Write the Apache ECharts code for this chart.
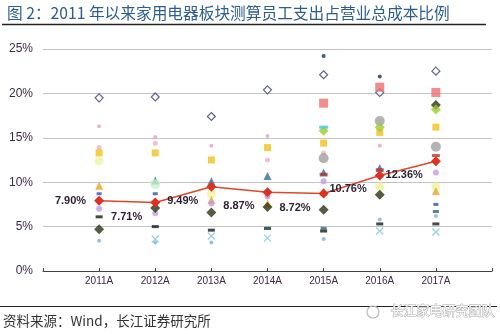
<!DOCTYPE html>
<html><head><meta charset="utf-8">
<script src="https://cdn.jsdelivr.net/npm/echarts@6/dist/echarts.min.js"></script>
<style>html,body{margin:0;padding:0;background:#fff}#c{width:500px;height:334px}</style>
</head><body><div id="c"></div>
<script>
const categories = ['2011A','2012A','2013A','2014A','2015A','2016A','2017A'];
const yTickLabels = ['0%','5%','10%','15%','20%','25%'];
const average = [7.90, 7.71, 9.49, 8.87, 8.72, 10.76, 12.36];
// company ratios (%), one array per company marker
const navyHollowDiamond = [19.5, 19.6, 17.4, 20.4, 22.1, 20.1, 22.5];
const darkGreenDiamond  = [4.7, 7.1, 6.6, 7.2, 6.9, 8.6, 18.7];
const blackDash         = [6.1, 5.0, 4.6, 4.8, 4.5, 5.3, 5.3];
const pinkDot           = [16.3, 15.1, 14.1, 15.2, null, 14.1, null];
const lightPinkDot      = [13.9, 14.4, null, 12.5, 13.3, null, null];
const yellowSquare      = [13.3, 13.3, 12.5, 13.9, 14.4, 15.6, 16.2];
const paleYellowCircle  = [12.4, null, 8.7, null, null, 9.5, 9.5];
const orangeTriangle    = [9.6, null, 8.0, 7.6, 8.9, null, 9.0];
const blueDash          = [8.7, 8.7, null, null, null, null, 7.5];
const purpleDot         = [7.0, 6.5, 7.6, 8.4, 10.1, null, 11.1];
const lightBlueDot      = [3.4, 3.2, 3.2, null, 3.6, 5.8, 6.2];
const lightBlueCross    = [null, 3.6, 3.95, 3.7, null, 4.5, 4.4];
const steelTriangle     = [null, 10.2, 10.1, 10.7, 11.1, 11.6, null];
const lightGreenCircle  = [null, 9.8, null, null, null, null, null];
const salmonSquare      = [null, null, null, null, 18.9, 20.7, 20.1];
const grayCircle        = [null, null, null, null, 12.7, 16.9, 14.0];
const limeDiamond       = [null, null, null, null, 15.8, 16.2, 18.2];
const cyanDash          = [null, null, null, null, 16.2, null, null];
const darkBlueDot       = [null, null, null, null, 24.2, 21.9, null];
const redDash           = [null, null, null, null, 10.9, 11.4, 13.0];
const tealDash          = [null, null, null, 4.8, 4.8, null, 6.7];

const pad = a => [null, ...a, null];
const xCats = ['', ...categories, ''];

function sc(name, data, symbol, size, color, hollow) {
  return {
    name, type: 'scatter', data: pad(data), symbol, symbolSize: size,
    itemStyle: hollow ? {color: '#fff', borderColor: color, borderWidth: 1.2} : {color},
    z: 3
  };
}

const series = [
  sc('a', navyHollowDiamond, 'diamond', 8, '#3b3f7a', true),
  sc('b', pinkDot, 'circle', 4, '#e7a0c8'),
  sc('c', lightPinkDot, 'circle', 5, '#f0b0c0'),
  sc('d', yellowSquare, 'rect', 7, '#f2c21a'),
  sc('e', paleYellowCircle, 'circle', 9, '#eef5a0'),
  sc('f', orangeTriangle, 'triangle', 8, '#f0a020'),
  sc('g', blueDash, 'rect', [5, 3], '#3050b0'),
  sc('h', purpleDot, 'circle', 6, '#c39be8'),
  sc('i', blackDash, 'rect', [7, 3], '#1a1a1a'),
  sc('j', darkGreenDiamond, 'diamond', 10, '#2b3512'),
  sc('k', lightBlueDot, 'circle', 4, '#7fb0d8'),
  sc('l', lightBlueCross, 'path://M0,0L2,2M2,0L0,2', 7, '#7ec8e0'),
  sc('m', steelTriangle, 'triangle', 8, '#2e6aa0'),
  sc('n', lightGreenCircle, 'circle', 10, '#c4f2c8'),
  sc('o', salmonSquare, 'rect', 9, '#ee7070'),
  sc('p', grayCircle, 'circle', 10, '#a0a0a0'),
  sc('q', limeDiamond, 'diamond', 10, '#9ccc30'),
  sc('r', cyanDash, 'rect', [9, 3], '#40c8d8'),
  sc('s', darkBlueDot, 'circle', 4, '#1c2c5c'),
  sc('t', redDash, 'rect', [8, 3], '#c0302a'),
  sc('u', tealDash, 'rect', [6, 3], '#2a6a70')
];
series[11].itemStyle = {color: 'none', borderColor: '#7ec8e0', borderWidth: 1.3};

series.push({
  name: 'avg', type: 'line', data: pad(average), symbol: 'diamond', symbolSize: 10,
  lineStyle: {color: '#e0472a', width: 1.5},
  itemStyle: {color: '#e03020'},
  z: 5,
  label: {
    show: true, position: 'left', distance: 8,
    formatter: p => p.value == null ? '' : p.value.toFixed(2) + '%',
    fontSize: 11, fontWeight: 'bold', color: '#2a1f33', fontFamily: 'Liberation Sans'
  },
  labelLayout: p => p.dataIndex === 1 ? {} : {dy: 14}
});

const chart = echarts.init(document.getElementById('c'));
chart.setOption({
  animation: false,
  title: {
    text: '图 2：2011 年以来家用电器板块测算员工支出占营业总成本比例',
    left: 2, top: 0,
    textStyle: {fontSize: 15.7, fontWeight: 'normal', color: '#2c5d8f', fontFamily: 'Noto Sans CJK SC'}
  },
  graphic: [
    {type: 'line', shape: {x1: 2, y1: 24.5, x2: 486, y2: 24.5}, style: {stroke: '#222', lineWidth: 1.5}},
    {type: 'line', shape: {x1: 0, y1: 306.5, x2: 497, y2: 306.5}, style: {stroke: '#222', lineWidth: 1.2}},
    {type: 'text', left: 3, top: 314, style: {text: '资料来源：Wind，长江证券研究所', fontSize: 13.5, fill: '#333', fontFamily: 'Noto Sans CJK SC'}},
    {type: 'text', left: 390, top: 303, style: {text: '长江家电研究团队', fontSize: 13, fill: '#fff', stroke: '#aaa', lineWidth: 1, fontFamily: 'Noto Sans CJK SC'}},
    {type: 'circle', shape: {cx: 373, cy: 312, r: 6}, style: {fill: 'none', stroke: '#bbb', lineWidth: 1.2}}
  ],
  grid: {left: 43, right: 8, top: 49, bottom: 63, containLabel: false},
  xAxis: {
    type: 'category', data: xCats, boundaryGap: false,
    axisLine: {lineStyle: {color: '#444', width: 1}},
    axisTick: {show: true, inside: true, length: 3, lineStyle: {color: '#444'}},
    axisLabel: {color: '#3a2a44', fontSize: 10, fontFamily: 'Liberation Sans', margin: 5, interval: 0},
    splitLine: {show: false}
  },
  yAxis: {
    type: 'value', min: 0, max: 25, interval: 5,
    axisLine: {show: false}, axisTick: {show: false},
    axisLabel: {formatter: v => yTickLabels[v / 5], color: '#3a2a44', fontSize: 12, fontFamily: 'Liberation Sans', margin: 10},
    splitLine: {lineStyle: {color: '#c4c4c4', width: 1}}
  },
  series
});
</script></body></html>
